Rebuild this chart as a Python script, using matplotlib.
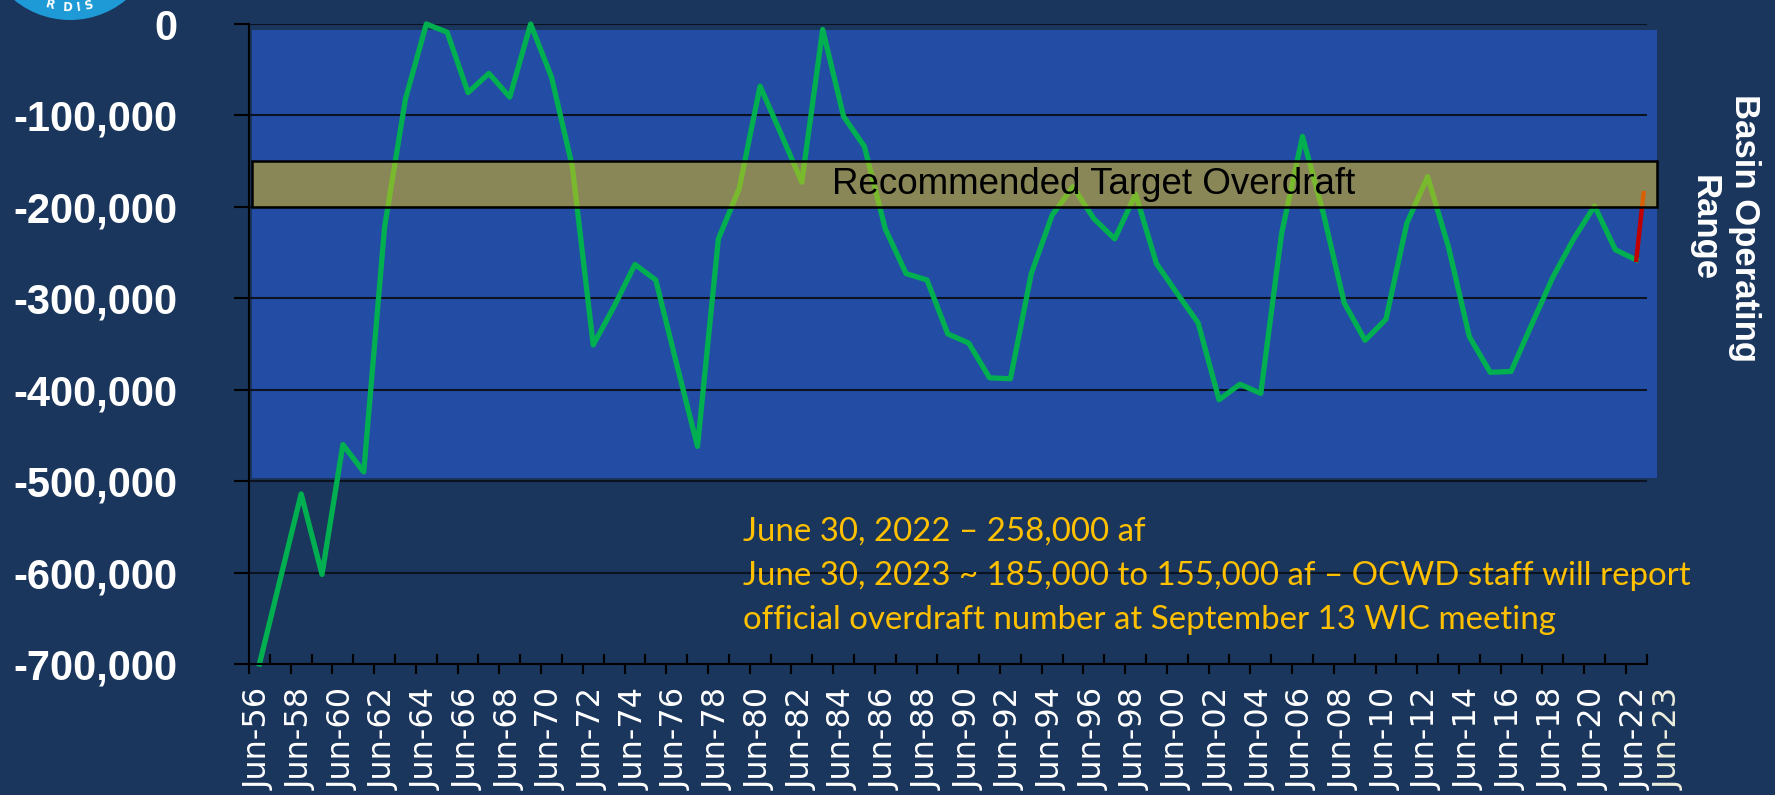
import math
import numpy as np
import matplotlib
matplotlib.use('Agg')
import matplotlib.pyplot as plt
from matplotlib.patches import Rectangle, Ellipse
from matplotlib import font_manager

# ---- data (acre-feet, end of June each year) ----
years = list(range(1956, 2023))
overdraft = [
    -700000, -607000, -514000, -602000, -460000, -490000, -222000, -82000,
    0, -9000, -75000, -54000, -80000, 0, -58000, -156000,
    -351000, -309000, -263000, -280000, -372000, -462000, -235000, -180000,
    -68000, -120000, -173000, -6000, -101000, -134000, -224000, -273000,
    -280000, -339000, -349000, -387000, -388000, -273000, -209000, -178000,
    -213000, -235000, -186000, -262000, -295000, -327000, -411000, -394000,
    -404000, -229000, -123000, -207000, -305000, -346000, -323000, -218000,
    -167000, -244000, -342000, -381000, -380000, -328000, -277000, -235000,
    -199000, -247000, -258000,
]
# estimate for June 2023 (red segment)
est_x = [2022.0, 2022.35]
est_y = [-258000, -185000]

operating_range = (-7000, -497000)   # blue box
target_band = (-150000, -200000)     # recommended target overdraft
box_x = (1955.63, 2022.99)

ytick_vals = list(range(0, -700001, -100000))
label_years = list(range(1956, 2023, 2))

note_lines = [
    "June 30, 2022 \u2013 258,000 af",
    "June 30, 2023 ~ 185,000 to 155,000 af \u2013 OCWD staff will report",
    "official overdraft number at September 13 WIC meeting",
]

BG = '#1A365D'
BOX = '#234CA5'
GREEN = '#00B050'
RED = '#C00000'
GOLD = '#FFC000'

try:
    font_manager.findfont('Liberation Sans Narrow', fallback_to_default=False)
    yfont, ysize = 'Liberation Sans Narrow', 35
except ValueError:
    yfont, ysize = 'Liberation Sans', 30

fig = plt.figure(figsize=(17.75, 7.95), dpi=100, facecolor=BG)
ax = fig.add_axes([0.14028, 0.16478, 0.78744, 0.80503])
ax.set_facecolor(BG)
ax.set_xlim(1955.5, 2022.5)
ax.set_ylim(-700000, 0)

# basin operating range box
ax.add_patch(Rectangle((box_x[0], operating_range[1]), box_x[1] - box_x[0],
                       operating_range[0] - operating_range[1],
                       facecolor=BOX, edgecolor='none', zorder=0.2, clip_on=False))

ax.set_axisbelow(True)
ax.yaxis.grid(True, color='#0B1220', linewidth=1.5)

ax.plot(years, overdraft, color=GREEN, linewidth=3.8, zorder=2, clip_on=False)
ax.plot(est_x, est_y, color=RED, linewidth=3.2, zorder=2.1, clip_on=False)

# target band (semi transparent, sits over the line)
ax.add_patch(Rectangle((box_x[0], target_band[1]), box_x[1] - box_x[0],
                       target_band[0] - target_band[1],
                       facecolor=(0.94, 0.76, 0.05, 0.5), edgecolor='black',
                       linewidth=1.8, zorder=3, clip_on=False))
ax.text(1996.0, sum(target_band) / 2, 'Recommended Target Overdraft',
        fontsize=26.5, family='Liberation Sans', color='black',
        ha='center', va='center', zorder=4)

for s in ['top', 'right']:
    ax.spines[s].set_visible(False)
for s in ['left', 'bottom']:
    ax.spines[s].set_color('black')
    ax.spines[s].set_linewidth(1.5)

# y axis
ax.set_yticks(ytick_vals)
ax.set_yticklabels([f"{v:,}" for v in ytick_vals], fontsize=ysize,
                   fontweight='bold', color='white', family=yfont)
ax.tick_params(axis='y', direction='out', length=10.8, width=1.5,
               color='black', pad=41)

# x axis: labels at each June, tick marks between years
ax.set_xticks(label_years)
ax.set_xticklabels([f"Jun-{y % 100:02d}" for y in label_years],
                   rotation=90, fontsize=23, color='white', family='DejaVu Sans')
ax.tick_params(axis='x', which='major', length=0, pad=17)
ax.set_xticks(np.arange(label_years[0] - 0.5, label_years[-1], 2), minor=True)
ax.tick_params(axis='x', which='minor', direction='out', length=7.2,
               width=1.5, color='black')

sec = ax.secondary_xaxis('bottom')
sec.set_xticks(np.arange(label_years[0] + 0.5, label_years[-1] + 1, 2))
sec.tick_params(direction='in', length=7, width=1.5, color='black',
                labelbottom=False)
sec.spines['bottom'].set_visible(False)

ax.text(2023.6, -0.0375, 'Jun-23', transform=ax.get_xaxis_transform(),
        rotation=90, ha='center', va='top', fontsize=23, color='#EEEEDD',
        family='DejaVu Sans', clip_on=False)

# note text
for line, yb in zip(note_lines, [-565000, -614000, -661500]):
    ax.text(1979.16, yb, line, fontsize=23.8, color=GOLD,
            family=['Lato', 'DejaVu Sans'], ha='left', va='baseline', zorder=4)

fig.text(0.9715, 0.7126, 'Basin Operating\nRange', rotation=270,
         ha='center', va='center', multialignment='center', fontsize=25,
         fontweight='bold', color='white', family='Liberation Sans',
         linespacing=1.3)

# logo (mostly cut off at the top-left)
W, H = 1775, 795
cx, cy, r = 70, -68, 88
fig.patches.append(Ellipse((cx / W, 1 - cy / H), 2 * r / W, 2 * r / H,
                           transform=fig.transFigure, facecolor='#1E9BD7',
                           edgecolor='none'))
for ch, dx in zip('RDIS', [-20, -2, 9, 18]):
    rr = 76
    py = cy + math.sqrt(rr ** 2 - dx ** 2)
    ang = math.degrees(math.asin(dx / rr))
    fig.text((cx + dx) / W, 1 - py / H, ch, fontsize=8.5, fontweight='bold',
             color='white', ha='center', va='center', rotation=ang)

fig.savefig('out.png', dpi=100, facecolor=BG)
